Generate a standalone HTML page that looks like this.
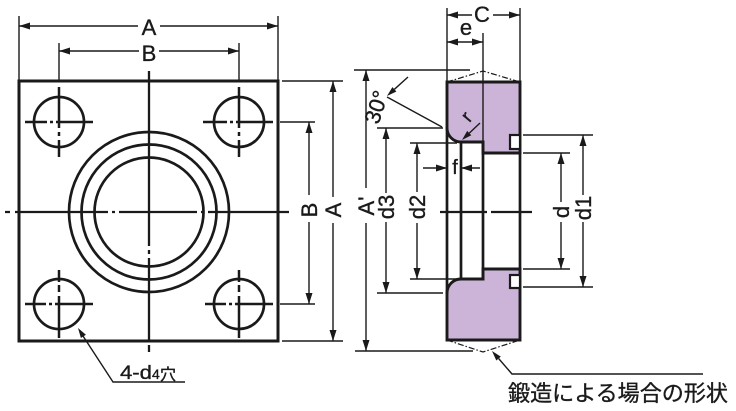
<!DOCTYPE html>
<html>
<head>
<meta charset="utf-8">
<style>
html,body{margin:0;padding:0;background:#fff;}
svg{display:block;}
text{font-family:"Liberation Sans","Noto Sans CJK JP",sans-serif;fill:#1a1a1a;stroke:#1a1a1a;stroke-width:0.35;}
.jp{font-family:"Liberation Sans","Noto Sans CJK JP",sans-serif;}
</style>
</head>
<body>
<svg width="736" height="411" viewBox="0 0 736 411" xmlns="http://www.w3.org/2000/svg">
<g stroke="#1a1a1a" fill="none" stroke-linecap="butt">

<!-- ===== LEFT VIEW ===== -->
<rect x="19" y="81" width="259" height="260" stroke-width="3"/>
<circle cx="149" cy="212" r="80" stroke-width="2.7"/>
<circle cx="149" cy="212" r="67.5" stroke-width="2.7"/>
<circle cx="149" cy="212" r="54.5" stroke-width="2.7"/>
<circle cx="59" cy="122" r="25" stroke-width="2.7"/>
<circle cx="239" cy="122" r="25" stroke-width="2.7"/>
<circle cx="59" cy="304" r="25" stroke-width="2.7"/>
<circle cx="239" cy="304" r="25" stroke-width="2.7"/>

<g stroke-width="2.5">
  <path d="M25,122H47 M50,122H53 M56,122H93"/>
  <path d="M59,87V128 M59,132V136 M59,140V157"/>
  <path d="M203,122H227 M230,122H233 M236,122H273"/>
  <path d="M239,87V128 M239,132V136 M239,140V157"/>
  <path d="M25,304H46 M49,304H52 M55,304H93"/>
  <path d="M59,270V282 M59,285V292 M59,296V338"/>
  <path d="M205,304H226 M229,304H232 M235,304H273"/>
  <path d="M239,270V282 M239,285V292 M239,296V338"/>
</g>

<g stroke-width="2.3">
  <path d="M149,71V246 M149,250V254 M149,258V341 M149,345V352"/>
  <path d="M5,212H10 M15,212H108 M112,212H115 M119,212H197 M201,212H204 M208,212H289"/>
</g>

<g stroke-width="1.4">
  <path d="M19,16V80 M278,16V80"/>
  <path d="M59,43V80 M239,43V80"/>
  <path d="M19,26H138 M160,26H278"/>
  <path d="M59,51H139 M159,51H239"/>
</g>
<g fill="#1a1a1a" stroke="none">
  <polygon points="19,26 30,22.5 30,29.5"/>
  <polygon points="278,26 267,22.5 267,29.5"/>
  <polygon points="59,51 70,47.5 70,54.5"/>
  <polygon points="239,51 228,47.5 228,54.5"/>
</g>

<g stroke-width="1.4">
  <path d="M282,81H343 M282,341H343"/>
  <path d="M280,122H315 M280,304H315"/>
  <path d="M333,81V197 M333,223V341"/>
  <path d="M309,122V195 M309,222V304"/>
</g>
<g fill="#1a1a1a" stroke="none">
  <polygon points="333,81 329.5,92 336.5,92"/>
  <polygon points="333,341 329.5,330 336.5,330"/>
  <polygon points="309,122 305.5,133 312.5,133"/>
  <polygon points="309,304 305.5,293 312.5,293"/>
</g>

<path d="M185,382H113L83,336" stroke-width="1.4"/>
<polygon points="78,328 85.9,334.8 80.9,338.0" fill="#1a1a1a" stroke="none"/>

<!-- ===== RIGHT VIEW ===== -->
<path d="M447,82H520V153H483V142H461A14,14 0 0 1 447,128Z" fill="#ccb4d9" stroke-width="2.9" stroke-linejoin="miter"/>
<path d="M447,340H520V269H483V279H461A14,14 0 0 0 447,293Z" fill="#ccb4d9" stroke-width="2.9" stroke-linejoin="miter"/>
<g stroke-width="2.7">
  <path d="M447,127V294"/>
  <path d="M461,141V280"/>
  <path d="M483,141V280"/>
  <path d="M520,152V270"/>
</g>
<rect x="510" y="135" width="10" height="14" fill="#fff" stroke-width="2.2"/>
<rect x="510" y="275" width="10" height="13" fill="#fff" stroke-width="2.2"/>
<path d="M483,33V141" stroke-width="1.4"/>
<path d="M447,8V81 M520,8V81" stroke-width="1.4"/>
<g stroke-width="1.2" stroke-dasharray="6 2 1.5 2">
  <path d="M447,82L483,71L520,82"/>
  <path d="M447,340L483,352L520,340"/>
</g>
<path d="M440,212H487 M491,212H532" stroke-width="2.3"/>

<g stroke-width="1.4">
  <path d="M447,15H472 M493,15H520"/>
  <path d="M447,42H483"/>
</g>
<g fill="#1a1a1a" stroke="none">
  <polygon points="447,15 458,11.5 458,18.5"/>
  <polygon points="520,15 509,11.5 509,18.5"/>
  <polygon points="447,42 458,38.5 458,45.5"/>
  <polygon points="483,42 472,38.5 472,45.5"/>
</g>

<g stroke-width="1.4">
  <path d="M423,168H447 M461,168H480"/>
</g>
<g fill="#1a1a1a" stroke="none">
  <polygon points="447,168 436,164.5 436,171.5"/>
  <polygon points="461,168 472,164.5 472,171.5"/>
</g>

<g stroke-width="1.4">
  <path d="M354,70H470 M355,351H473"/>
  <path d="M377,128H443 M377,293H443"/>
  <path d="M410,143H457 M410,279H457"/>
  <path d="M366,70V188 M366,223V351"/>
  <path d="M386,128V193 M386,222V293"/>
  <path d="M417,143V192 M417,223V279"/>
  <path d="M387,97L442,127"/>
  <path d="M408,77L394.4,89.3"/>
  <path d="M480,123L469.3,133.1"/>
</g>
<g fill="#1a1a1a" stroke="none">
  <polygon points="366,70 362.5,81 369.5,81"/>
  <polygon points="366,351 362.5,340 369.5,340"/>
  <polygon points="386,128 382.5,139 389.5,139"/>
  <polygon points="386,293 382.5,282 389.5,282"/>
  <polygon points="417,143 413.5,154 420.5,154"/>
  <polygon points="417,279 413.5,268 420.5,268"/>
  <polygon points="387,96 396.4,91.5 392.4,87.1"/>
  <polygon points="462,140 471.3,135.3 467.2,130.9"/>
</g>

<g stroke-width="1.4">
  <path d="M523,135H593 M523,287H593"/>
  <path d="M523,153H570 M523,269H570"/>
  <path d="M561,153V202 M561,222V269"/>
  <path d="M583,135V195 M583,222V287"/>
</g>
<g fill="#1a1a1a" stroke="none">
  <polygon points="561,153 557.5,164 564.5,164"/>
  <polygon points="561,269 557.5,258 564.5,258"/>
  <polygon points="583,135 579.5,146 586.5,146"/>
  <polygon points="583,287 579.5,276 586.5,276"/>
</g>

<path d="M703,374H512L498.6,358.5" stroke-width="1.4"/>
<polygon points="492,351 500.8,356.6 496.3,360.5" fill="#1a1a1a" stroke="none"/>
</g>

<!-- ===== TEXT ===== -->
<g font-size="22">
  <text x="149" y="35" text-anchor="middle">A</text>
  <text x="149" y="61" text-anchor="middle">B</text>
  <text x="482" y="22" text-anchor="middle">C</text>
  <text x="466" y="35" text-anchor="middle">e</text>
  <text x="455" y="174" text-anchor="middle" font-size="20">f</text>

  <text transform="translate(309,210) rotate(-90)" text-anchor="middle" dy="0.36em">B</text>
  <text transform="translate(333,210) rotate(-90)" text-anchor="middle" dy="0.36em">A</text>
  <text transform="translate(366,206) rotate(-90)" text-anchor="middle" dy="0.36em">A'</text>
  <text transform="translate(386,207) rotate(-90)" text-anchor="middle" dy="0.36em">d3</text>
  <text transform="translate(417,207) rotate(-90)" text-anchor="middle" dy="0.36em">d2</text>
  <text transform="translate(561,212) rotate(-90)" text-anchor="middle" dy="0.36em">d</text>
  <text transform="translate(583,208) rotate(-90)" text-anchor="middle" dy="0.36em">d1</text>

  <text transform="translate(376,107) rotate(-72)" text-anchor="middle" dy="0.36em">30°</text>
  <text transform="translate(467,117) rotate(-50)" text-anchor="middle" dy="0.3em" font-size="19">r</text>
</g>

<text x="120" y="379" font-size="19" textLength="32" lengthAdjust="spacingAndGlyphs">4-d</text>
<text x="152" y="379" font-size="14">4</text>
<text x="160" y="380" font-size="16" class="jp">穴</text>

<text x="508" y="401" font-size="22" class="jp" textLength="220" lengthAdjust="spacingAndGlyphs">鍛造による場合の形状</text>
</svg>
</body>
</html>
